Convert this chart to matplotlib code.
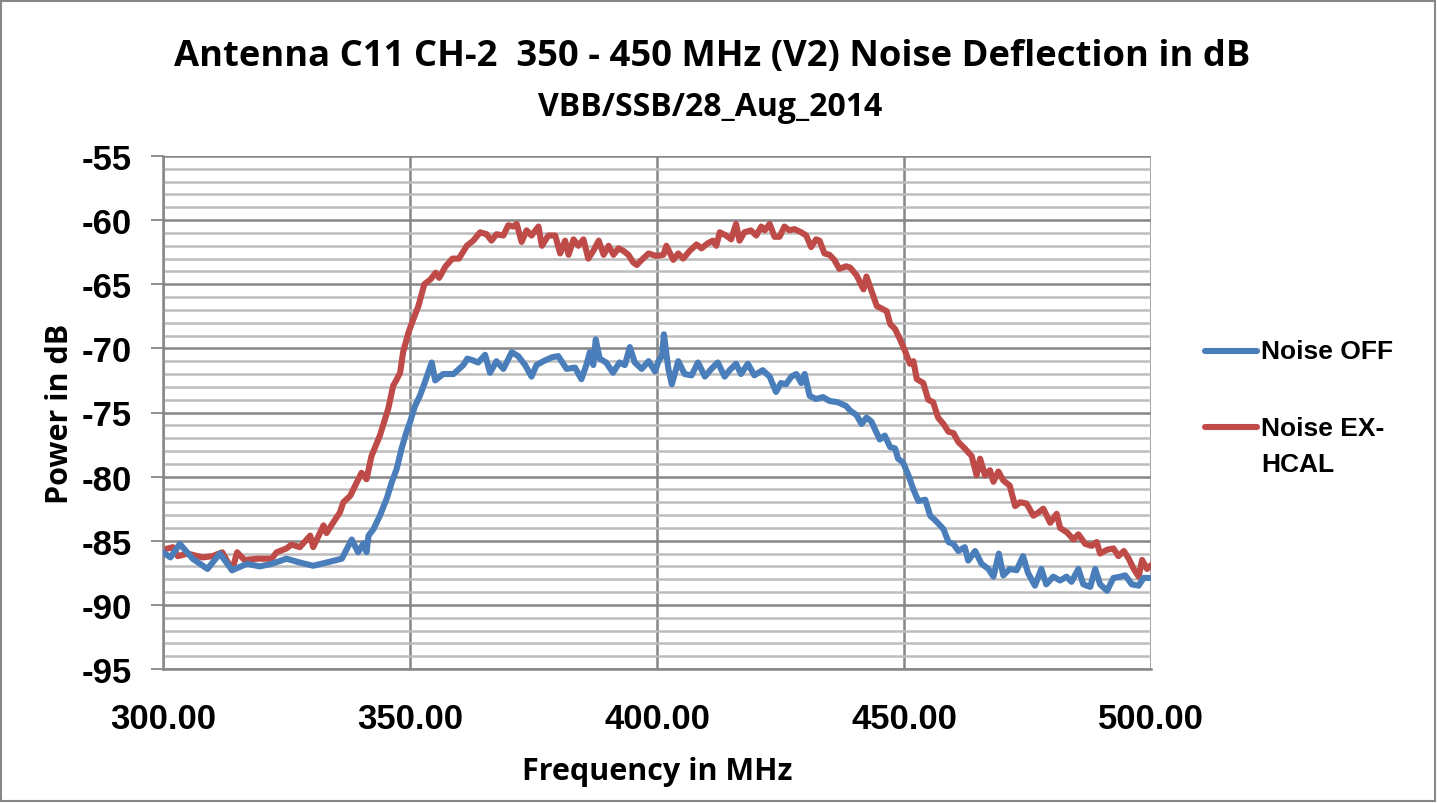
import matplotlib
matplotlib.use("Agg")
import matplotlib.pyplot as plt
from matplotlib import font_manager
from matplotlib.lines import Line2D
from matplotlib.ticker import MultipleLocator, FixedLocator

names = sorted({f.name for f in font_manager.fontManager.ttflist})

# Frequency (MHz) and power (dB) for the two measurements
freq_off = [300, 301.5, 303.4, 306, 309, 311.5, 314, 317, 319.6, 322, 325, 327.7,
            330.4, 333.1, 336.2, 338.2, 339.5, 340.6, 341.2, 341.6, 342.6, 343.9,
            345.3, 346.3, 347.3, 348.3, 349.3, 350.0, 351.0, 352.0, 353.0, 354.4,
            355.1, 356.7, 358.8, 360.8, 361.6, 362.5, 363.8, 365.2, 366.2, 367.5,
            368.9, 370.6, 371.9, 373.3, 374.6, 375.6, 377, 378.7, 380, 381.7, 383.4,
            384.7, 385.7, 386.4, 387.1, 387.6, 388.4, 389.7, 391.1, 392.4, 393.5,
            394.5, 395.5, 396.9, 398.3, 399.6, 400.3, 401.0, 401.4, 402.3, 403.0,
            404.3, 405.6, 407, 408.3, 409.7, 411, 412.3, 413.7, 414.7, 416, 417,
            418.4, 419.7, 421.4, 422.8, 424.1, 425.1, 426.1, 427.2, 428.2, 429.2,
            429.9, 430.9, 432.2, 433.6, 434.9, 436.6, 438.3, 439.1, 440.4, 441.4,
            442.4, 443.4, 444.1, 445.1, 446.1, 447.2, 448.2, 448.8, 449.8, 450.9,
            451.9, 452.9, 454.3, 455.3, 456.3, 457.3, 458, 459, 460, 461, 462.3,
            463, 464.4, 465.7, 467.1, 468.1, 469.2, 470.1, 471.4, 472.8, 474.1,
            475.1, 476.5, 477.8, 478.8, 480.2, 481.6, 482.9, 483.9, 485.3, 486.3,
            487.7, 488.7, 489.7, 491.1, 492.4, 493.8, 494.8, 496.1, 497.5, 498.5,
            500]
noise_off = [-85.9, -86.3, -85.25, -86.4, -87.2, -86.0, -87.3, -86.8, -87.0, -86.8,
             -86.4, -86.7, -86.95, -86.7, -86.4, -84.9, -85.9, -85.2, -85.9, -84.6,
             -84.1, -83.05, -81.7, -80.45, -79.4, -77.8, -76.5, -75.75, -74.5, -73.7,
             -72.65, -71.1, -72.5, -72.0, -72.0, -71.3, -70.8, -70.9, -71.1, -70.5,
             -71.9, -71.0, -71.6, -70.3, -70.6, -71.3, -72.2, -71.3, -71.0, -70.7,
             -70.6, -71.6, -71.5, -72.4, -71.3, -70.3, -71.3, -69.3, -70.8, -71.1,
             -71.9, -71.1, -71.3, -69.9, -71.1, -71.6, -71.0, -71.8, -71.0, -70.6,
             -68.9, -71.6, -72.8, -71.0, -72.0, -72.1, -71.1, -72.2, -71.6, -71.1,
             -72.2, -71.7, -71.2, -72.0, -71.2, -72.1, -71.7, -72.2, -73.4, -72.7,
             -72.8, -72.2, -72.0, -72.7, -72.0, -73.7, -73.95, -73.8, -74.1, -74.2,
             -74.5, -74.85, -75.2, -75.9, -75.4, -75.7, -76.3, -77.1, -76.8, -77.7,
             -77.8, -78.6, -78.9, -79.9, -81.0, -81.9, -81.8, -83.05, -83.4, -83.8,
             -84.1, -85.1, -85.25, -85.8, -85.5, -86.55, -85.8, -86.8, -87.2, -87.8,
             -86.0, -87.7, -87.2, -87.3, -86.2, -87.5, -88.5, -87.2, -88.4, -87.8,
             -88.1, -87.8, -88.2, -87.2, -88.4, -88.6, -87.2, -88.4, -88.9, -87.9,
             -87.8, -87.7, -88.4, -88.5, -87.9, -87.9]

freq_cal = [300, 302, 303, 305, 308, 310, 312, 314, 315, 316.5, 319, 322, 323, 325,
            326, 327.7, 329.8, 330.4, 332.5, 333.1, 334.5, 335.8, 336.5, 337.9,
            338.9, 340.2, 341.2, 342.2, 343.9, 345.6, 346.6, 347.2, 348.0, 348.6,
            349.7, 350.7, 351.7, 352.9, 354.2, 355.2, 355.9, 357.2, 358.6, 359.9,
            361.5, 362.8, 364.2, 365.5, 366.5, 367.5, 368.9, 369.9, 370.9, 371.6,
            372.6, 373.6, 374.6, 376, 376.7, 378, 379.4, 380.4, 381.4, 382.1, 383.1,
            384.1, 385.1, 386.1, 387.1, 388.2, 389.2, 390.2, 391.2, 392.2, 393.2,
            394.2, 395.2, 395.9, 396.9, 398.3, 399.9, 401.3, 401.9, 403.3, 404.3,
            405.3, 406.6, 408, 409, 410.3, 411.3, 412, 412.7, 414, 415, 416, 416.7,
            417.7, 419, 420.1, 421.1, 421.8, 422.8, 423.8, 424.8, 425.8, 426.8,
            427.8, 429.2, 430.2, 431.2, 432.2, 432.9, 433.9, 434.9, 435.9, 436.9,
            438.3, 439.1, 440.4, 441.8, 442.4, 443.4, 444.5, 445.5, 446.5, 447.2,
            448.2, 449.2, 450.2, 451.2, 451.9, 452.6, 453.9, 454.9, 455.9, 456.9,
            458, 459, 460, 461, 462.3, 463.7, 464.7, 465.4, 466.4, 467.4, 468.1,
            469.1, 470.1, 471.4, 472.5, 473.5, 474.8, 476.2, 477.2, 478.2, 479.6,
            480.9, 481.6, 483, 484.3, 485.3, 486.7, 488, 489, 489.7, 491.1, 492.4,
            493.4, 494.5, 495.5, 496.5, 497.5, 498.2, 499.2, 500]
noise_cal = [-85.7, -85.5, -86.2, -86.0, -86.3, -86.2, -85.9, -87.3, -85.9, -86.5,
             -86.4, -86.4, -85.9, -85.6, -85.3, -85.5, -84.6, -85.5, -83.8, -84.4,
             -83.55, -82.8, -82.0, -81.5, -80.7, -79.7, -80.2, -78.4, -76.8, -74.7,
             -72.9, -72.5, -71.9, -70.3, -68.75, -67.7, -66.7, -65.0, -64.6, -64.1,
             -64.5, -63.6, -63.0, -63.0, -62.0, -61.6, -60.95, -61.1, -61.6, -61.1,
             -61.2, -60.4, -60.5, -60.3, -61.7, -60.8, -61.2, -60.5, -62.0, -61.2,
             -61.2, -62.6, -61.6, -62.7, -61.5, -62.0, -61.5, -63.0, -62.4, -61.6,
             -62.7, -62.0, -62.7, -62.2, -62.4, -62.7, -63.3, -63.5, -63.1, -62.6,
             -62.8, -62.7, -62.0, -63.1, -62.6, -63.0, -62.4, -61.9, -62.2, -61.8,
             -61.6, -62.0, -60.95, -61.2, -61.5, -60.3, -61.6, -60.95, -60.8, -61.2,
             -60.5, -60.8, -60.3, -61.3, -61.3, -60.5, -60.8, -60.7, -60.95, -61.2,
             -62.1, -61.5, -61.6, -62.6, -62.7, -63.1, -63.8, -63.6, -63.7, -64.3,
             -65.4, -64.4, -65.5, -66.7, -66.9, -67.1, -68.1, -68.5, -69.3, -70.2,
             -71.2, -71.0, -72.4, -72.7, -74.0, -74.2, -75.4, -75.9, -76.5, -76.6,
             -77.3, -77.8, -78.4, -79.9, -78.6, -79.9, -79.5, -80.4, -79.6, -80.3,
             -80.7, -82.3, -82.0, -82.1, -83.05, -82.8, -82.5, -83.6, -82.9, -84.0,
             -84.35, -84.9, -84.5, -85.25, -85.4, -85.1, -86.0, -85.7, -85.6, -86.2,
             -85.8, -86.4, -87.2, -87.8, -86.5, -87.2, -86.9]

series_labels = ["Noise OFF", "Noise EX-\nHCAL"]
x_ticks = [300, 350, 400, 450, 500]
x_tick_labels = ["300.00", "350.00", "400.00", "450.00", "500.00"]
y_ticks = [-95, -90, -85, -80, -75, -70, -65, -60, -55]

title_text = "Antenna C11 CH-2  350 - 450 MHz (V2) Noise Deflection in dB"
subtitle_text = "VBB/SSB/28_Aug_2014"

narrow = "Liberation Sans Narrow" if "Liberation Sans Narrow" in names else "Liberation Sans"
heading = ["Open Sans", "DejaVu Sans"]

W, H = 1437, 804
fig = plt.figure(figsize=(W / 100, H / 100), dpi=100)
fig.patch.set_facecolor("white")

ax = fig.add_axes([163 / W, 1 - 670 / H, (1151 - 163) / W, (670 - 157) / H])
ax.set_xlim(300, 500)
ax.set_ylim(-95, -55)

major_c = "#878787"
minor_c = "#bdbdbd"
ax.yaxis.set_major_locator(FixedLocator(y_ticks))
ax.yaxis.set_minor_locator(MultipleLocator(1))
ax.xaxis.set_major_locator(FixedLocator(x_ticks))
ax.grid(which="minor", axis="y", color=minor_c, lw=1.8, zorder=0)
ax.grid(which="major", axis="y", color=major_c, lw=1.8, zorder=0)
ax.grid(which="major", axis="x", color=major_c, lw=1.8, zorder=0)
ax.set_axisbelow(True)

for s in ["top", "right"]:
    ax.spines[s].set_visible(False)
for s in ["left", "bottom"]:
    ax.spines[s].set_color(major_c)
    ax.spines[s].set_linewidth(1.8)

ax.tick_params(axis="y", which="major", direction="out", length=8.5, width=1.3,
               color=major_c, pad=14)
ax.tick_params(axis="y", which="minor", length=0)
ax.tick_params(axis="x", which="major", length=0, pad=24)

ax.set_xticklabels(x_tick_labels)
ax.set_yticklabels([str(v) for v in y_ticks])
for lab in ax.get_xticklabels() + ax.get_yticklabels():
    lab.set_fontfamily(narrow)
    lab.set_fontweight("bold")
    lab.set_fontsize(25)

blue = "#4a7ebb"
red = "#be4b48"
line_off, = ax.plot(freq_off, noise_off, color=blue, lw=4.4, solid_joinstyle="round",
                    solid_capstyle="round", zorder=3)
line_cal, = ax.plot(freq_cal, noise_cal, color=red, lw=4.4, solid_joinstyle="round",
                    solid_capstyle="round", zorder=2)

# legend entries drawn to the right of the plot area:
# (handle, label, y of the marker line, y of the label centre) in pixels from top
legend_rows = [(line_off, series_labels[0], 352, 352),
               (line_cal, series_labels[1], 428, 447)]
for handle, text, yline, ytext in legend_rows:
    yf = 1 - yline / H
    fig.add_artist(Line2D([1205 / W, 1257 / W], [yf, yf], transform=fig.transFigure,
                          color=handle.get_color(), lw=4.4, solid_capstyle="round"))
    fig.text(1261 / W, 1 - ytext / H, text, ha="left", va="center",
             family=narrow, fontweight="bold", fontsize=19, linespacing=1.68)

fig.text(0.4956, 1 - 57 / H, title_text, ha="center", va="center",
         fontsize=26.2, fontweight="bold", family=heading)
fig.text(0.494, 1 - 108 / H, subtitle_text, ha="center", va="center",
         fontsize=23, fontweight="bold", family=heading)
ax.set_xlabel("Frequency in MHz", fontsize=22, fontweight="bold", family=heading,
              labelpad=15)
ax.set_ylabel("Power in dB", fontsize=22, fontweight="bold", family=heading,
              labelpad=5)

# outer chart border
fig.add_artist(plt.Rectangle((1 / W, 2 / H), 1 - 3 / W, 1 - 4 / H,
                             transform=fig.transFigure, fill=False,
                             edgecolor=major_c, lw=1.5))

fig.savefig("out.png", dpi=100)
